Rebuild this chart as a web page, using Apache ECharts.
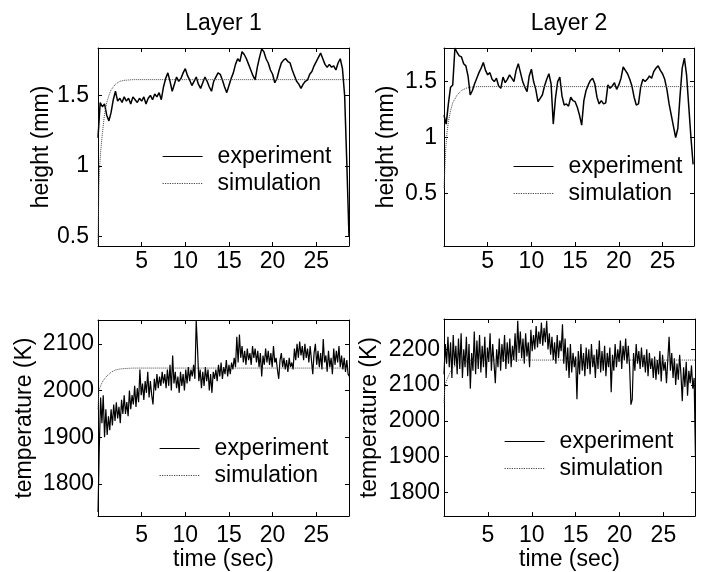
<!DOCTYPE html>
<html>
<head>
<meta charset="utf-8">
<script src="https://cdn.jsdelivr.net/npm/echarts@6/dist/echarts.min.js"></script>
<style>
  html, body { margin: 0; padding: 0; background: #fff; }
  #chart { width: 702px; height: 572px; }
</style>
</head>
<body>
<div id="chart"></div>
<script>
// tick positions
const xTicks = [5, 10, 15, 20, 25];
const yTicksHeightL1 = [0.5, 1, 1.5];
const yTicksHeightL2 = [0.5, 1, 1.5];
const yTicksTempL1 = [1800, 1900, 2000, 2100];
const yTicksTempL2 = [1800, 1900, 2000, 2100, 2200];

// sampling step of the measured signals (sec)
const dtHeight = 0.25;
const dtTemp = 0.15;

// layer 1 height, experiment (mm)
const heightL1 = [1.2,1.45,1.42,1.44,1.36,1.32,1.38,1.47,1.53,1.46,
  1.48,1.45,1.49,1.46,1.48,1.44,1.49,1.47,1.45,1.48,
  1.46,1.49,1.44,1.48,1.5,1.47,1.51,1.49,1.52,1.47,
  1.56,1.62,1.66,1.6,1.53,1.58,1.63,1.6,1.62,1.66,
  1.69,1.64,1.61,1.57,1.6,1.63,1.58,1.55,1.59,1.63,
  1.6,1.56,1.53,1.6,1.63,1.66,1.65,1.61,1.56,1.52,
  1.57,1.62,1.66,1.72,1.76,1.74,1.81,1.79,1.76,1.72,
  1.68,1.64,1.61,1.7,1.77,1.83,1.81,1.76,1.73,1.68,
  1.65,1.59,1.62,1.68,1.73,1.75,1.76,1.74,1.73,1.68,
  1.64,1.6,1.58,1.55,1.58,1.6,1.61,1.65,1.67,1.71,
  1.74,1.77,1.8,1.76,1.72,1.7,1.72,1.7,1.71,1.68,
  1.73,1.76,1.69,1.5,1.02,0.5];

// layer 2 height, experiment (mm)
const heightL2 = [1.2,1.12,1.3,1.45,1.47,1.8,1.76,1.73,1.72,1.66,
  1.64,1.55,1.38,1.42,1.48,1.53,1.58,1.62,1.67,1.6,
  1.56,1.58,1.52,1.5,1.53,1.46,1.44,1.54,1.49,1.52,
  1.56,1.53,1.5,1.6,1.66,1.58,1.5,1.45,1.41,1.55,
  1.61,1.5,1.43,1.32,1.35,1.38,1.46,1.52,1.57,1.48,
  1.12,1.35,1.5,1.54,1.37,1.29,1.3,1.28,1.36,1.33,
  1.32,1.27,1.2,1.11,1.33,1.42,1.47,1.51,1.53,1.48,
  1.36,1.3,1.33,1.3,1.31,1.47,1.44,1.46,1.49,1.43,
  1.47,1.53,1.63,1.6,1.57,1.52,1.46,1.36,1.29,1.3,
  1.45,1.52,1.5,1.52,1.55,1.53,1.59,1.62,1.64,1.6,
  1.57,1.52,1.43,1.3,1.2,1.1,1.0,1.08,1.37,1.62,
  1.71,1.56,1.28,1.0,0.76];

// layer 1 temperature, experiment (K)
const tempL1 = [1740,1880,1985,1930,1990,1900,1960,1905,1945,1915,
  1960,1925,1970,1935,1975,1940,1965,1930,1980,1950,
  1990,1950,1975,1945,2000,1960,1990,1970,2010,1965,
  2005,1975,2045,1990,2015,1980,2020,1995,2040,1985,
  2020,1990,1970,2025,2000,2035,2005,2030,2010,2040,
  2015,2035,2005,2045,2010,2055,2000,2075,2015,2040,
  2005,2030,1995,2040,2010,2035,2000,2045,2015,2050,
  2020,2045,2030,2055,2025,2150,2090,2020,2045,2005,
  2040,2010,2050,2020,2045,2000,2035,1995,2040,2025,
  2045,2020,2055,2030,2060,2025,2050,2035,2065,2030,
  2055,2035,2060,2045,2070,2050,2115,2060,2120,2070,
  2095,2060,2085,2055,2090,2065,2080,2055,2095,2070,
  2090,2060,2085,2050,2080,2030,2075,2055,2090,2060,
  2085,2055,2080,2050,2095,2060,2070,2045,2025,2065,
  2080,2050,2070,2045,2065,2040,2070,2050,2060,2045,
  2090,2065,2100,2070,2105,2075,2095,2065,2100,2070,
  2090,2060,2095,2065,2035,2080,2100,2055,2085,2050,
  2080,2045,2110,2060,2075,2040,2085,2050,2070,2035,
  2090,2055,2085,2060,2095,2050,2075,2045,2070,2040,
  2065,2035,2030];

// layer 2 temperature, experiment (K)
const tempL2 = [2130,2215,2160,2235,2150,2220,2120,2240,2155,2210,
  2130,2230,2145,2245,2120,2200,2150,2235,2125,2215,
  2090,2190,2140,2250,2130,2225,2145,2240,2135,2210,
  2150,2235,2120,2205,2165,2245,2140,2215,2160,2105,
  2200,2150,2230,2140,2215,2165,2240,2145,2220,2160,
  2230,2150,2210,2170,2245,2165,2280,2190,2250,2175,
  2230,2160,2245,2180,2220,2150,2255,2195,2240,2200,
  2265,2205,2250,2215,2275,2210,2260,2220,2280,2200,
  2245,2185,2235,2170,2220,2160,2240,2175,2225,2195,
  2270,2160,2230,2140,2205,2120,2215,2135,2190,2150,
  2180,2060,2195,2130,2215,2140,2190,2125,2205,2145,
  2200,2130,2215,2150,2185,2120,2200,2145,2225,2135,
  2195,2140,2210,2125,2190,2150,2205,2080,2185,2140,
  2215,2150,2200,2165,2225,2145,2210,2170,2230,2160,
  2210,2150,2045,2060,2190,2140,2215,2160,2195,2145,
  2205,2150,2185,2135,2200,2125,2190,2145,2175,2120,
  2180,2115,2170,2130,2195,2110,2185,2140,2165,2105,
  2170,2235,2140,2190,2120,2175,2100,2160,2115,2185,
  2130,2055,2150,2095,2165,2070,2140,2105,2155,2090,
  2120,1900];

// simulations
const simTimeH1 = [0,0.1,0.2,0.3,0.5,0.75,1,1.25,1.5,2,2.5,3,4,28.75];
const simHeightL1 = [0.45,0.85,1.0,1.1,1.23,1.37,1.45,1.5,1.54,1.58,1.6,1.607,1.612,1.612];
const simTimeH2 = [0,0.1,0.2,0.35,0.5,0.75,1,1.5,2,2.5,3,4,28.6];
const simHeightL2 = [0.55,0.72,0.9,1.05,1.14,1.24,1.31,1.38,1.42,1.44,1.45,1.455,1.455];
const simTimeT1 = [0,0.1,0.3,0.5,0.75,1,1.5,2,2.5,3,4,28.75];
const simTempL1 = [1960,2000,2010,2018,2025,2031,2039,2044,2046,2047,2048,2048];
const simTimeT2 = [0,0.1,0.25,0.5,0.75,1,1.5,2,2.5,3,4,28.6];
const simTempL2 = [2050,2095,2110,2125,2138,2147,2158,2164,2167,2169,2170,2170];

const FONT = '"Liberation Sans", Arial, sans-serif';
const txt = { color: '#000', fontFamily: FONT, fontSize: 23 };

function sampled(vals, dt) {
  return vals.map((v, i) => [Math.round(i * dt * 1000) / 1000, v]);
}
function zip(ts, vs) {
  return ts.map((t, i) => [t, vs[i]]);
}

const panels = [
  { grid: { left: 98, top: 48, width: 251, height: 198 }, xMax: 28.75, yMin: 0.434, yMax: 1.836,
    yTicks: yTicksHeightL1, yName: 'height (mm)', yGap: 45, yMargin: 9, xName: '', xMargin: 4,
    exp: sampled(heightL1, dtHeight), expWidth: 1.5, sim: zip(simTimeH1, simHeightL1),
    legend: { left: 162, top: 145 }, title: 'Layer 1', titleX: 223.5 },
  { grid: { left: 444, top: 48, width: 250, height: 198 }, xMax: 28.6, yMin: 0.03, yMax: 1.80,
    yTicks: yTicksHeightL2, yName: 'height (mm)', yGap: 46, yMargin: 7, xName: '', xMargin: 4,
    exp: sampled(heightL2, dtHeight), expWidth: 1.5, sim: zip(simTimeH2, simHeightL2),
    legend: { left: 513, top: 155 }, title: 'Layer 2', titleX: 569 },
  { grid: { left: 98, top: 320, width: 251, height: 198 }, xMax: 28.75, yMin: 1731, yMax: 2151,
    yTicks: yTicksTempL1, yName: 'temperature (K)', yGap: 62, yMargin: 4, xName: 'time (sec)', xMargin: 8,
    exp: sampled(tempL1, dtTemp), expWidth: 1.2, sim: zip(simTimeT1, simTempL1),
    legend: { left: 159, top: 437 } },
  { grid: { left: 444, top: 319, width: 251, height: 199 }, xMax: 28.6, yMin: 1733, yMax: 2285,
    yTicks: yTicksTempL2, yName: 'temperature (K)', yGap: 63, yMargin: 4, xName: 'time (sec)', xMargin: 8,
    exp: sampled(tempL2, dtTemp), expWidth: 1.2, sim: zip(simTimeT2, simTempL2),
    legend: { left: 504, top: 430 } }
];

const option = {
  animation: false,
  backgroundColor: '#fff',
  grid: [], xAxis: [], yAxis: [], series: [], legend: [], graphic: []
};

const axisLine = { show: true, onZero: false, lineStyle: { color: '#000', width: 1 } };

panels.forEach((p, i) => {
  option.grid.push(p.grid);
  const tick = vals => ({ show: true, inside: true, length: 4, customValues: vals, lineStyle: { color: '#000' } });
  option.xAxis.push({
    type: 'value', gridIndex: i, min: 0, max: p.xMax, position: 'bottom',
    axisLine, axisTick: tick(xTicks), splitLine: { show: false },
    axisLabel: Object.assign({ customValues: xTicks, margin: p.xMargin, formatter: v => String(v) }, txt),
    name: p.xName, nameLocation: 'middle', nameGap: 30, nameTextStyle: txt
  });
  option.xAxis.push({
    type: 'value', gridIndex: i, min: 0, max: p.xMax, position: 'top',
    axisLine, axisTick: tick(xTicks), splitLine: { show: false }, axisLabel: { show: false }
  });
  option.yAxis.push({
    type: 'value', gridIndex: i, min: p.yMin, max: p.yMax, position: 'left',
    axisLine, axisTick: tick(p.yTicks), splitLine: { show: false },
    axisLabel: Object.assign({ customValues: p.yTicks, margin: p.yMargin, formatter: v => String(v) }, txt),
    name: p.yName, nameLocation: 'middle', nameGap: p.yGap, nameTextStyle: txt
  });
  option.yAxis.push({
    type: 'value', gridIndex: i, min: p.yMin, max: p.yMax, position: 'right',
    axisLine, axisTick: tick(p.yTicks), splitLine: { show: false }, axisLabel: { show: false }
  });
  option.series.push({
    name: 'experiment', type: 'line', xAxisIndex: 2 * i, yAxisIndex: 2 * i,
    data: p.exp, symbol: 'none', lineStyle: { color: '#000', width: p.expWidth }, itemStyle: { color: '#000' }
  });
  option.series.push({
    name: 'simulation', type: 'line', xAxisIndex: 2 * i, yAxisIndex: 2 * i,
    data: p.sim, symbol: 'none', lineStyle: { color: '#444', width: 1, type: 'dotted' }, itemStyle: { color: '#444' }
  });
  option.legend.push({
    left: p.legend.left, top: p.legend.top, orient: 'vertical', padding: 0,
    itemGap: 4, itemWidth: 40, itemHeight: 14, selectedMode: false,
    itemStyle: { opacity: 0 },
    lineStyle: { width: 1.2 },
    data: ['experiment', 'simulation'],
    textStyle: Object.assign({ padding: [0, 0, 0, 10], lineHeight: 23 }, txt)
  });
  if (p.title) {
    option.graphic.push({
      type: 'text', x: p.titleX, y: 24,
      style: { text: p.title, fill: '#000', fontFamily: FONT, fontSize: 23, textAlign: 'center', textVerticalAlign: 'middle' }
    });
  }
});

const chart = echarts.init(document.getElementById('chart'));
chart.setOption(option);
</script>
</body>
</html>
